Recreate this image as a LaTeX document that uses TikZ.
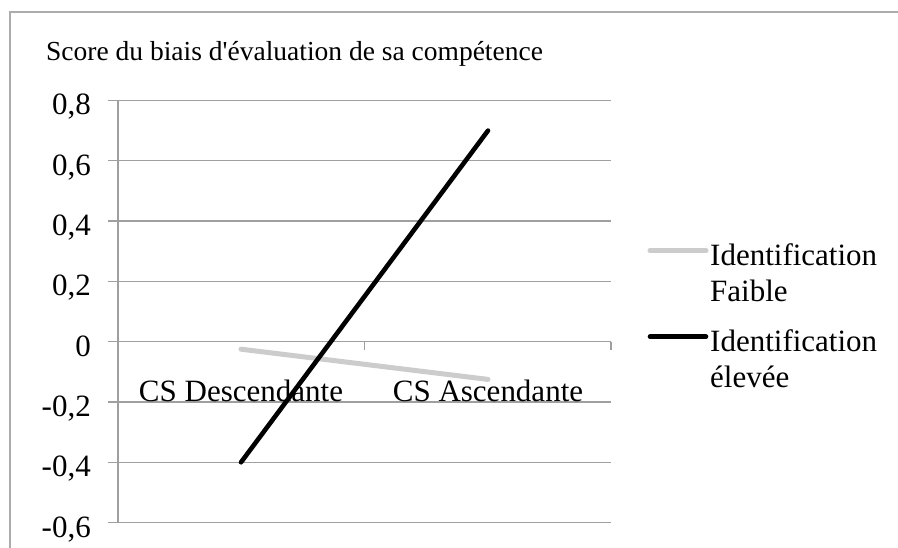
\documentclass[tikz,border=0pt]{standalone}
\usepackage{fontspec}
\setmainfont{Liberation Serif}[Ligatures=TeXOff]
\begin{document}
\begin{tikzpicture}[x=1pt,y=-1pt,
  gridline/.style={draw=gray!75, line width=1.4pt},
  frameline/.style={draw=gray!65, line width=2pt},
  ticklabel/.style={anchor=base east, inner sep=0pt, font=\fontsize{31}{36}\selectfont},
  catlabel/.style={anchor=base, inner sep=0pt, font=\fontsize{31}{36}\selectfont},
  legendtext/.style={anchor=base west, inner sep=0pt, font=\fontsize{31}{36}\selectfont},
  lowline/.style={draw=gray!40, line width=5pt},
  highline/.style={draw=black, line width=4.6pt}]
\useasboundingbox (0,0) rectangle (898,548);
\fill[white] (0,0) rectangle (898,548);
% frame
\coordinate (fbl) at (10,548);
\coordinate (ftl) at (10,12.5);
\coordinate (ftr) at (898,12.5);
\draw[frameline] (fbl) -- (ftl) -- (ftr);
% title
\node[anchor=base west, inner sep=0pt, font=\fontsize{27.5}{32}\selectfont] (title) at (46,61) {Score du biais d'évaluation de sa compétence};
% grid
\foreach \v/\lab [count=\i] in {0.8/{0,8},0.6/{0,6},0.4/{0,4},0.2/{0,2},0/{0},-0.2/{-0,2},-0.4/{-0,4},-0.6/{-0,6}}{
  \pgfmathsetmacro{\yy}{341.7-\v*301.5}
  \coordinate (gl\i) at (108,\yy);
  \coordinate (gr\i) at (611,\yy);
  \draw[gridline] (gl\i) -- (gr\i);
  \node[ticklabel] (tl\i) at (91,\yy+14.5) {\lab};
}
% axis
\coordinate (axtop) at (118,100.5);
\coordinate (axbot) at (118,522.6);
\draw[gridline] (axtop) -- (axbot);
% category ticks
\coordinate (ct1) at (364.5,341.7);
\coordinate (ct1b) at (364.5,350);
\coordinate (ct2) at (611,341.7);
\coordinate (ct2b) at (611,350);
\draw[gridline] (ct1) -- (ct1b);
\draw[gridline] (ct2) -- (ct2b);
% category labels
\node[catlabel] (cat1) at (241,401.7) {CS Descendante};
\node[catlabel] (cat2) at (488,401.7) {CS Ascendante};
% data
\coordinate (lo1) at (241,349.2);
\coordinate (lo2) at (488,379.4);
\coordinate (hi1) at (241,462.3);
\coordinate (hi2) at (488,130.6);
\draw[lowline, line cap=round] (lo1) -- (lo2);
\draw[highline, line cap=round] (hi1) -- (hi2);
% legend
\node[legendtext] (leg1a) at (710,265.7) {Identification};
\node[legendtext] (leg1b) at (710,301.7) {Faible};
\node[legendtext] (leg2a) at (710,351.7) {Identification};
\node[legendtext] (leg2b) at (710,388) {élevée};
\coordinate (lg1s) at (650,250.7);
\coordinate (lg1e) at (706,250.7);
\coordinate (lg2s) at (650,336.7);
\coordinate (lg2e) at (706,336.7);
\draw[lowline, line cap=round] (lg1s) -- (lg1e);
\draw[highline, line cap=round] (lg2s) -- (lg2e);
\end{tikzpicture}
\end{document}
